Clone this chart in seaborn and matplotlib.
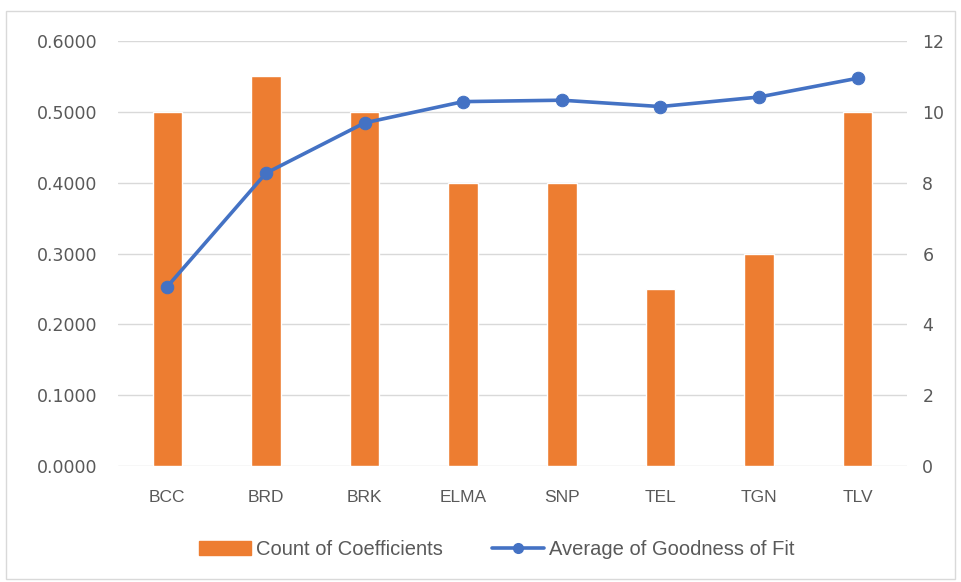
import numpy as np
import pandas as pd
import matplotlib
matplotlib.use("Agg")
import matplotlib.pyplot as plt
import seaborn as sns
from matplotlib.patches import Rectangle

# data
tickers = ["BCC", "BRD", "BRK", "ELMA", "SNP", "TEL", "TGN", "TLV"]
coef_count = [10, 11, 10, 8, 8, 5, 6, 10]
goodness_fit = [0.2535, 0.4135, 0.4845, 0.5145, 0.5165, 0.5075, 0.5210, 0.5475]

df = pd.DataFrame({"ticker": tickers, "count": coef_count, "fit": goodness_fit})

sns.set_theme(style="white")
plt.rcParams["font.family"] = ["Liberation Sans", "DejaVu Sans"]

orange = "#ED7D31"
blue = "#4472C4"
grey = "#595959"

fig = plt.figure(figsize=(9.61, 5.82), dpi=100)
fig.patches.append(Rectangle((0.006, 0.006), 0.988, 0.975, transform=fig.transFigure,
                             fill=False, edgecolor="#D9D9D9", linewidth=1))

# bars use the right-hand axis (counts), line uses the left-hand axis
ax_bar = fig.add_axes([0.1228, 0.199, 0.821, 0.7305])
sns.barplot(data=df, x="ticker", y="count", color=orange, width=0.3,
            saturation=1, ax=ax_bar)
ax_line = ax_bar.twinx()
sns.lineplot(data=df, x="ticker", y="fit", color=blue, marker="o", markersize=9,
             markeredgecolor=blue, linewidth=2.6, ax=ax_line)

ax_bar.set_ylim(0, 12)
ax_bar.set_yticks(np.arange(0, 13, 2))
ax_bar.grid(axis="y", color="#D9D9D9", linewidth=1)
ax_bar.set_axisbelow(True)
ax_bar.yaxis.tick_right()

ax_line.set_ylim(0, 0.6)
ax_line.set_yticks(np.arange(0, 0.61, 0.1))
ax_line.set_yticklabels([f"{v:.4f}" for v in np.arange(0, 0.61, 0.1)])
ax_line.yaxis.tick_left()

for a in (ax_bar, ax_line):
    a.set_xlabel("")
    a.set_ylabel("")
    for s in a.spines.values():
        s.set_visible(False)
    a.tick_params(axis="both", length=0, colors=grey)
for lab in ax_bar.get_yticklabels() + ax_line.get_yticklabels():
    lab.set_family("DejaVu Sans")
    lab.set_fontsize(12.5)
ax_bar.tick_params(axis="y", pad=11)
ax_line.tick_params(axis="y", pad=15)
ax_bar.tick_params(axis="x", pad=17, labelsize=12.5)
ax_bar.set_xlim(-0.5, len(tickers) - 0.5)

handles = [Rectangle((0, 0), 1, 1, color=orange),
           plt.Line2D([], [], color=blue, marker="o", linewidth=2.6, markersize=7)]
fig.legend(handles, ["Count of Coefficients", "Average of Goodness of Fit"],
           loc="center", bbox_to_anchor=(0.517, 0.055), ncol=2, frameon=False,
           fontsize=14.5, labelcolor=grey, handlelength=2.6, columnspacing=2.4,
           handletextpad=0.25)

fig.savefig("out.png", dpi=100)
